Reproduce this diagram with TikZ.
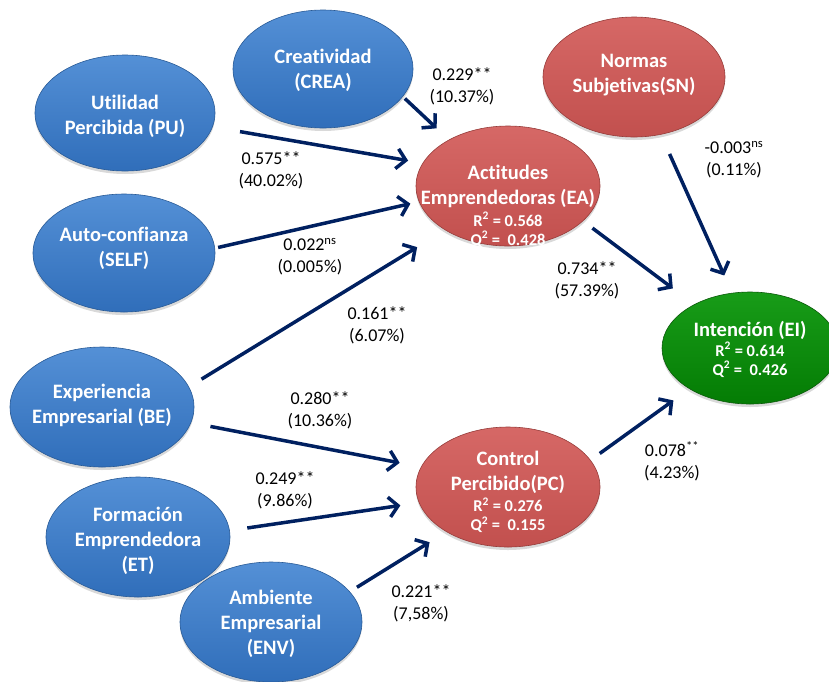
\documentclass[tikz,border=0pt]{standalone}
\usepackage{fontspec}
\setmainfont{Carlito}[Ligatures=NoCommon]
\usetikzlibrary{shapes.geometric,arrows.meta,shadows}

\definecolor{bluetop}{RGB}{84,144,214}
\definecolor{bluebot}{RGB}{48,110,186}
\definecolor{blueline}{RGB}{40,90,150}
\definecolor{redtop}{RGB}{214,104,102}
\definecolor{redbot}{RGB}{194,80,78}
\definecolor{redline}{RGB}{150,60,58}
\definecolor{greentop}{RGB}{24,156,24}
\definecolor{greenbot}{RGB}{4,124,4}
\definecolor{greenline}{RGB}{10,90,10}
\definecolor{navy}{RGB}{0,32,96}
\newcommand{\stat}{\fontsize{16.5}{19}\selectfont}

\begin{document}
\begin{tikzpicture}[x=1pt, y=-1pt,
    ball/.style={ellipse, inner sep=0pt, outer sep=0pt, line width=0.6pt,
        minimum width=184pt, minimum height=120pt,
        drop shadow={shadow xshift=0pt, shadow yshift=-3pt, opacity=0.3}},
    blueball/.style={ball, draw=blueline, top color=bluetop, bottom color=bluebot},
    redball/.style={ball, draw=redline, top color=redtop, bottom color=redbot},
    greenball/.style={ball, draw=greenline, top color=greentop, bottom color=greenbot},
    lvtext/.style={text=white, align=center, inner sep=0pt,
        font=\bfseries\fontsize{20.5}{25}\selectfont},
    coef/.style={align=center, inner sep=0pt, font=\fontsize{18}{22}\selectfont},
    effect/.style={navy, line width=3.5pt, -{Straight Barb[length=9pt,width=20pt]}}]
    \useasboundingbox (0,0) rectangle (829,681);

    % Draw the latent variables
    \node[blueball, minimum width=180pt, minimum height=118pt] (crea) at (323,69) {};
    \node[blueball, minimum width=180pt, minimum height=116pt] (pu) at (125,113) {};
    \node[blueball, minimum width=182pt, minimum height=118pt] (self) at (124,253) {};
    \node[blueball] (be) at (102,407) {};
    \node[blueball] (et) at (138,537) {};
    \node[blueball, minimum width=182pt] (env) at (271,622) {};
    \node[redball, minimum width=182pt] (sn) at (634,77) {};
    \node[redball] (ea) at (508,186) {};
    \node[redball] (pc) at (508,487) {};
    \node[greenball, minimum width=176pt, minimum height=112pt] (ei) at (750,348) {};

    % Names inside the ellipses
    \node[lvtext] (crea-t) at (323,70) {Creatividad\\(CREA)};
    \node[lvtext] (pu-t) at (125,116) {Utilidad\\Percibida (PU)};
    \node[lvtext] (self-t) at (124,248) {Auto-confianza\\(SELF)};
    \node[lvtext] (be-t) at (102,405) {Experiencia\\Empresarial (BE)};
    \node[lvtext] (et-t) at (138,541) {Formación\\Emprendedora\\(ET)};
    \node[lvtext] (env-t) at (271,624) {Ambiente\\Empresarial\\(ENV)};
    \node[lvtext] (sn-t) at (634,75) {Normas\\Subjetivas(SN)};
    \node[lvtext] (ea-t) at (508,206) {Actitudes\\Emprendedoras (EA)\\[-3pt]{\stat R\textsuperscript{2} = 0.568}\\[-6pt]{\stat Q\textsuperscript{2} =\ \ 0.428}};
    \node[lvtext] (pc-t) at (508,492) {Control\\Percibido(PC)\\[-4pt]{\stat R\textsuperscript{2} = 0.276}\\[-6pt]{\stat Q\textsuperscript{2} =\ \ 0.155}};
    \node[lvtext] (ei-t) at (750,349) {Intención (EI)\\[-5pt]{\stat R\textsuperscript{2} = 0.614}\\[-6pt]{\stat Q\textsuperscript{2} =\ \ 0.426}};

    % Draw the paths
    \foreach \a/\s/\gs/\b/\t/\gt in {crea/-19.5/3/ea/142.5/17, pu/-9.4/28/ea/165.4/15,
        self/3.6/3.5/ea/-170.7/9, be/13.4/15/ea/-145/33, be/-10.5/20/pc/167/22,
        et/4.7/18/pc/-170.5/19, env/21.6/8.6/pc/-144.3/20, ea/-25.7/12/ei/142.1/27,
        sn/-65.6/21.5/ei/108.9/19.4, pc/18.4/11.6/ei/-146/20}
        \draw[effect, shorten <=\gs pt, shorten >=\gt pt] (\a.\s) -- (\b.\t);

    % Path coefficients
    \node[coef] (c-crea) at (462,86) {0.229**\\(10.37\%)};
    \node[coef] (c-pu) at (271,170) {0.575**\\(40.02\%)};
    \node[coef] (c-self) at (310,257) {0.022\textsuperscript{ns}\\(0.005\%)};
    \node[coef] (c-bea) at (377,325) {0.161**\\(6.07\%)};
    \node[coef] (c-bpc) at (320,410) {0.280**\\(10.36\%)};
    \node[coef] (c-et) at (285,490) {0.249**\\(9.86\%)};
    \node[coef] (c-env) at (421,603) {0.221**\\(7,58\%)};
    \node[coef] (c-pc) at (672,461) {0.078\textsuperscript{**}\\(4.23\%)};
    \node[coef] (c-ea) at (587,280) {0.734**\\(57.39\%)};
    \node[coef] (c-sn) at (734,160) {-0.003\textsuperscript{ns}\\(0.11\%)};
\end{tikzpicture}
\end{document}
